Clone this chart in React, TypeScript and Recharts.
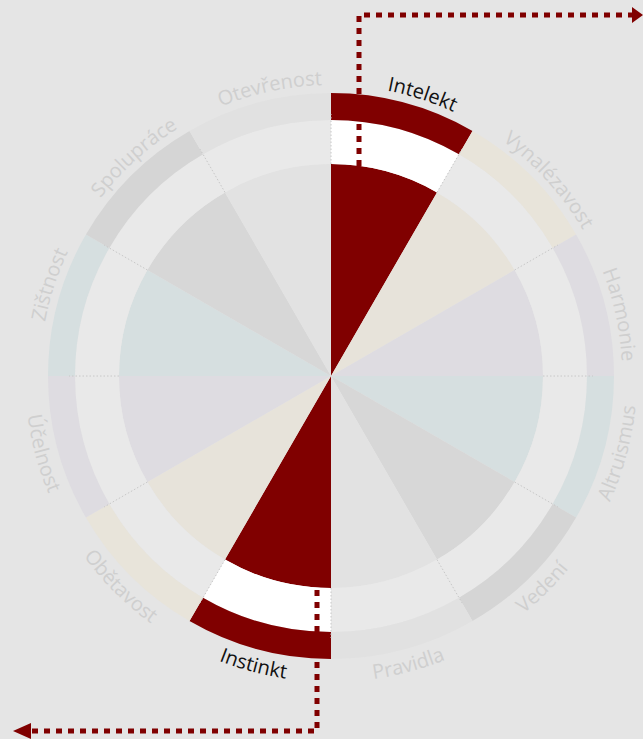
import React from "react";
import { PieChart, Pie, Cell } from "recharts";

// sectors clockwise from 12 o'clock
const CATEGORIES = [
  "Intelekt",
  "Vynalézavost",
  "Harmonie",
  "Altruismus",
  "Vedení",
  "Pravidla",
  "Instinkt",
  "Obětavost",
  "Účelnost",
  "Zištnost",
  "Spolupráce",
  "Otevřenost",
];
const SECTOR_SHARE = [1, 1, 1, 1, 1, 1, 1, 1, 1, 1, 1, 1];
const HIGHLIGHTED = ["Intelekt", "Instinkt"];

const INNER_COLORS = [
  "#800000", "#e7e3da", "#dedce1", "#d6dfe0", "#d7d7d7", "#e2e2e2",
  "#800000", "#e7e3da", "#dedce1", "#d6dfe0", "#d7d7d7", "#e2e2e2",
];
const OUTER_COLORS = [
  "#800000", "#e8e4da", "#dedce1", "#d6dfe0", "#d5d5d5", "#e1e1e1",
  "#800000", "#e8e4da", "#dedce1", "#d6dfe0", "#d5d5d5", "#e1e1e1",
];

const W = 643;
const H = 739;
const CX = 331;
const CY = 376;
const R_INNER = 212;
const R_RING = 256;
const R_OUTER = 283;
const LABEL_R = 300;
const BG = "#e5e5e5";
const RING = "#e9e9e9";
const RED = "#800000";
const RAD = Math.PI / 180;

const data = CATEGORIES.map((name, i) => ({ name, value: SECTOR_SHARE[i] }));

// point at clockwise angle a (deg from top), radius r
const pt = (cx: number, cy: number, a: number, r: number) =>
  `${(cx + r * Math.sin(a * RAD)).toFixed(2)},${(cy - r * Math.cos(a * RAD)).toFixed(2)}`;

const renderLabel = (props: any) => {
  const { cx, cy, midAngle, index } = props;
  let a = 90 - midAngle;
  if (a < 0) a += 360;
  const name = CATEGORIES[index];
  const hot = HIGHLIGHTED.includes(name);
  const lower = a > 90 && a < 270;
  const span = 60;
  let d: string;
  if (!lower) {
    // upper half labels sit a little clockwise of the sector middle
    a += 3;
    const r = LABEL_R - 9;
    d = `M${pt(cx, cy, a - span, r)} A${r},${r} 0 0 1 ${pt(cx, cy, a + span, r)}`;
  } else {
    const r = LABEL_R + 6;
    d = `M${pt(cx, cy, a + span, r)} A${r},${r} 0 0 0 ${pt(cx, cy, a - span, r)}`;
  }
  const id = "lblpath-" + index;
  return (
    <g key={"lbl-" + index}>
      <path id={id} d={d} fill="none" stroke="none" />
      <text
        fontFamily="'Open Sans', sans-serif"
        fontSize={20}
        fill={hot ? "#111111" : "#cfcfcf"}
      >
        <textPath href={"#" + id} startOffset="50%" textAnchor="middle">
          {name}
        </textPath>
      </text>
    </g>
  );
};

const Overlay = () => {
  const n = CATEGORIES.length;
  const ticks = Array.from({ length: n }, (_, i) => {
    const a = (i * 360) / n;
    const s = Math.sin(a * RAD);
    const c = -Math.cos(a * RAD);
    return (
      <line
        key={i}
        x1={CX + R_INNER * s}
        y1={CY + R_INNER * c}
        x2={CX + (R_RING + 6) * s}
        y2={CY + (R_RING + 6) * c}
        stroke="#c8c8c8"
        strokeWidth={1}
        strokeDasharray="1.5 2"
      />
    );
  });
  const topX = CX + 28;
  const botX = CX - 14;
  return (
    <svg width={W} height={H} style={{ position: "absolute", left: 0, top: 0, pointerEvents: "none" }}>
      {ticks}
      <path
        d={`M${topX},${CY - R_INNER + 2} V15 H633`}
        fill="none"
        stroke={RED}
        strokeWidth={5}
        strokeDasharray="6 6"
      />
      <polygon points="632,7 643,15 632,23" fill={RED} />
      <path
        d={`M${botX},${CY + R_INNER + 2} V731 H30`}
        fill="none"
        stroke={RED}
        strokeWidth={5}
        strokeDasharray="6 6"
      />
      <polygon points="31,723 13,731 31,739" fill={RED} />
    </svg>
  );
};

export default function App() {
  return (
    <div style={{ position: "absolute", left: 0, top: 0, width: W, height: H, background: BG, overflow: "hidden" }}>
      <PieChart width={W} height={H} margin={{ top: 0, right: 0, bottom: 0, left: 0 }}>
        <Pie
          data={data}
          dataKey="value"
          cx={CX}
          cy={CY}
          innerRadius={0}
          outerRadius={R_INNER}
          startAngle={90}
          endAngle={-270}
          stroke="none"
          isAnimationActive={false}
        >
          {data.map((d, i) => (
            <Cell key={i} fill={INNER_COLORS[i]} />
          ))}
        </Pie>
        <Pie
          data={data}
          dataKey="value"
          cx={CX}
          cy={CY}
          innerRadius={R_INNER}
          outerRadius={R_RING}
          startAngle={90}
          endAngle={-270}
          stroke="none"
          isAnimationActive={false}
        >
          {data.map((d, i) => (
            <Cell key={i} fill={HIGHLIGHTED.includes(d.name) ? "#ffffff" : RING} />
          ))}
        </Pie>
        <Pie
          data={data}
          dataKey="value"
          cx={CX}
          cy={CY}
          innerRadius={R_RING}
          outerRadius={R_OUTER}
          startAngle={90}
          endAngle={-270}
          stroke="none"
          label={renderLabel}
          labelLine={false}
          isAnimationActive={false}
        >
          {data.map((d, i) => (
            <Cell key={i} fill={OUTER_COLORS[i]} />
          ))}
        </Pie>
      </PieChart>
      <Overlay />
    </div>
  );
}
